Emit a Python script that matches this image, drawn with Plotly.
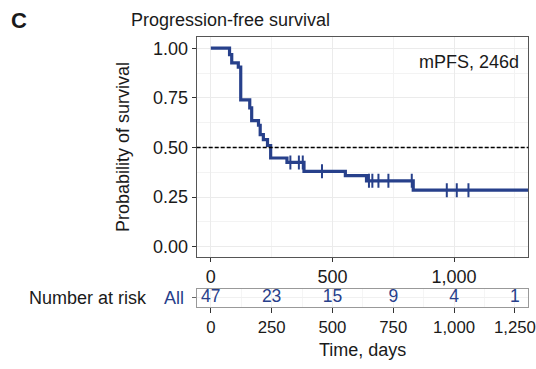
import plotly.graph_objects as go

# ---- data ----
event_times = [0, 77, 86, 113, 123, 160, 168, 196, 203, 216, 233, 246, 313, 383, 553, 640, 832]
survival = [1.0, 0.968, 0.926, 0.905, 0.740, 0.700, 0.635, 0.612, 0.565, 0.540, 0.510, 0.447, 0.425, 0.380, 0.358, 0.332, 0.285]
last_time = 1340
censor_times = [327, 362, 378, 457, 650, 664, 689, 730, 826, 970, 1011, 1059]

risk_times = [0, 250, 500, 750, 1000, 1250]
risk_counts = [47, 23, 15, 9, 4, 1]

y_ticks = [0, 0.25, 0.5, 0.75, 1.0]
x_main_ticks = [0, 500, 1000]

BLUE = "#27408B"
TXT = "#1a1a1a"
FONT = "Liberation Sans, Arial, Helvetica, sans-serif"
FS = 18
W, H = 536, 369


def px_x(p):
    return p / W


def px_y(p):
    return 1 - p / H


def surv_at(t):
    s = survival[0]
    for et, sv in zip(event_times, survival):
        if et <= t:
            s = sv
    return s


xs = event_times + [last_time]
ys = survival + [survival[-1]]
cens_y = [surv_at(t) for t in censor_times]

fig = go.Figure()
fig.add_trace(go.Scatter(x=xs, y=ys, mode="lines", line=dict(shape="hv", color=BLUE, width=3.2),
                         xaxis="x", yaxis="y", showlegend=False, hoverinfo="skip"))
fig.add_trace(go.Scatter(x=censor_times, y=cens_y, mode="markers",
                         marker=dict(symbol="line-ns", size=10, line=dict(width=2, color=BLUE)),
                         xaxis="x", yaxis="y", showlegend=False, hoverinfo="skip"))
fig.add_trace(go.Scatter(x=risk_times, y=[0.5] * len(risk_times), mode="text",
                         text=[str(c) for c in risk_counts],
                         textfont=dict(color=BLUE, size=17.5, family=FONT),
                         xaxis="x2", yaxis="y2", showlegend=False, cliponaxis=False, hoverinfo="skip"))

xr = [-58, 1305]
dom_x = [px_x(196.7), px_x(528.3)]

fig.update_layout(
    width=W, height=H, margin=dict(l=0, r=0, t=0, b=0, autoexpand=False),
    paper_bgcolor="white", plot_bgcolor="white",
    font=dict(family=FONT, size=FS, color=TXT),
    separators=".,",
    xaxis=dict(domain=dom_x, range=xr, anchor="y", tickvals=x_main_ticks, tickformat=",",
               ticks="outside", ticklen=4, tickwidth=1, tickcolor="#333", automargin=False,
               showline=True, mirror=True, linecolor="#555", linewidth=1,
               showgrid=True, gridcolor="#ebebeb", gridwidth=1, zeroline=False,
               minor=dict(tickvals=[250, 750, 1250], showgrid=True, gridcolor="#f3f3f3", gridwidth=0.6, ticks=""),
               tickfont=dict(size=FS, color=TXT), ticklabeloverflow="allow"),
    yaxis=dict(domain=[px_y(256.7), px_y(37.3)], range=[-0.05, 1.055], anchor="x",
               tickvals=y_ticks, tickformat=".2f", automargin=False,
               ticks="outside", ticklen=4, tickwidth=1, tickcolor="#333",
               showline=True, mirror=True, linecolor="#555", linewidth=1,
               showgrid=True, gridcolor="#ebebeb", gridwidth=1, zeroline=False,
               minor=dict(tickvals=[0.125, 0.375, 0.625, 0.875], showgrid=True, gridcolor="#f3f3f3", gridwidth=0.6, ticks=""),
               tickfont=dict(size=FS, color=TXT)),
    xaxis2=dict(domain=dom_x, range=xr, anchor="y2", tickvals=risk_times, tickformat=",",
                ticks="outside", ticklen=5, tickwidth=1, tickcolor="#333", automargin=False,
                showline=True, mirror=True, linecolor="#999", linewidth=1,
                showgrid=True, gridcolor="#f0f0f0", gridwidth=1, zeroline=False,
                minor=dict(dtick=125, tick0=125, showgrid=True, gridcolor="#f5f5f5", gridwidth=0.6, ticks=""),
                tickfont=dict(size=16.8, color=TXT), ticklabeloverflow="allow"),
    yaxis2=dict(domain=[px_y(306.7), px_y(289)], range=[0, 1], anchor="x2",
                tickvals=[0.5], ticktext=["All"], ticks="outside", ticklen=4, tickcolor="#666",
                ticklabelstandoff=4, automargin=False,
                showline=True, mirror=True, linecolor="#999", linewidth=1,
                showgrid=True, gridcolor="#f0f0f0", zeroline=False,
                tickfont=dict(size=FS, color=BLUE)),
    shapes=[dict(type="line", xref="x domain", x0=0, x1=1, yref="y", y0=0.5, y1=0.5,
                 line=dict(color="black", width=1.3, dash="4px,2px"))],
    annotations=[
        dict(text="<b>C</b>", x=px_x(9), y=px_y(21), xref="paper", yref="paper",
             xanchor="left", yanchor="middle", showarrow=False, font=dict(size=22, color=TXT)),
        dict(text="Progression-free survival", x=px_x(129), y=px_y(20), xref="paper", yref="paper",
             xanchor="left", yanchor="middle", showarrow=False, font=dict(size=FS, color=TXT)),
        dict(text="mPFS, 246d", x=px_x(521), y=px_y(62), xref="paper", yref="paper",
             xanchor="right", yanchor="middle", showarrow=False, font=dict(size=FS, color=TXT)),
        dict(text="Probability of survival", x=px_x(123), y=px_y(147), xref="paper", yref="paper",
             xanchor="center", yanchor="middle", textangle=-90, showarrow=False, font=dict(size=FS, color=TXT)),
        dict(text="Number at risk", x=px_x(149), y=px_y(298), xref="paper", yref="paper",
             xanchor="right", yanchor="middle", showarrow=False, font=dict(size=FS, color=TXT)),
        dict(text="Time, days", x=px_x(362), y=px_y(350), xref="paper", yref="paper",
             xanchor="center", yanchor="middle", showarrow=False, font=dict(size=FS, color=TXT)),
    ],
)

fig.write_html("out.html")
